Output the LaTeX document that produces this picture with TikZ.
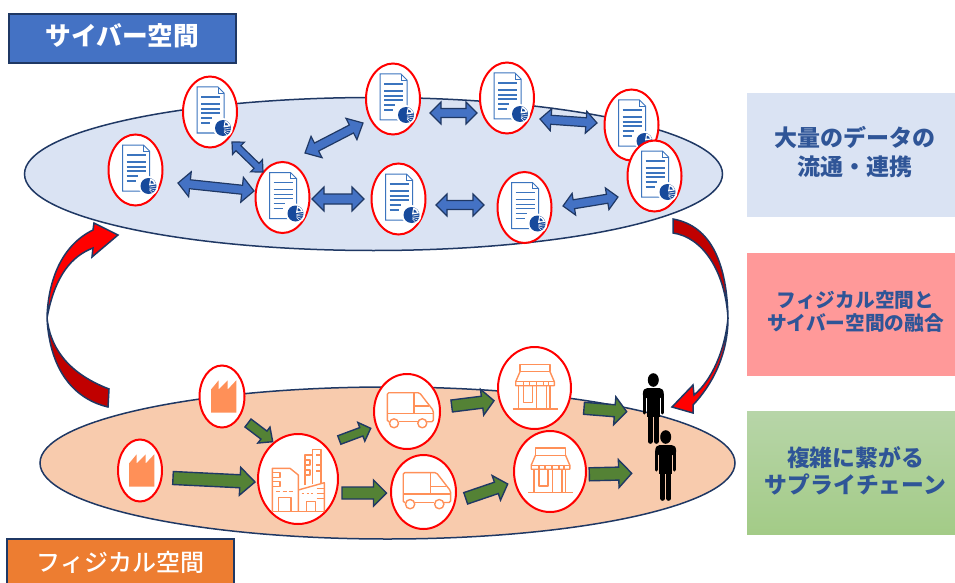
\documentclass[tikz,border=0pt]{standalone}
\usepackage{fontspec}
\usetikzlibrary{shapes.geometric,calc}
\setmainfont{Noto Sans CJK JP}
\newfontfamily\jpmedium{Noto Sans CJK JP Medium}
\definecolor{navyline}{HTML}{1F3864}
\definecolor{cyberblue}{HTML}{4472C4}
\definecolor{cyberpale}{HTML}{DAE3F3}
\definecolor{physorange}{HTML}{ED7D31}
\definecolor{physpale}{HTML}{F8CBAD}
\definecolor{flowgreen}{HTML}{548235}
\definecolor{iconorange}{HTML}{FF9058}
\definecolor{docblue}{HTML}{3B74BE}
\definecolor{piedark}{HTML}{174A9C}
\definecolor{capblue}{HTML}{2F5597}
\definecolor{redbox}{HTML}{FF9999}
\definecolor{darkred}{HTML}{C00000}
\definecolor{chaintop}{HTML}{B7D5A8}
\definecolor{chainbot}{HTML}{A3CB87}
\tikzset{
	asize/.code n args={3}{\def\ahl{#1pt}\def\ahw{#2pt}\def\asw{#3pt}},
	sglarrow/.style={draw=navyline,fill=flowgreen,line width=1.4pt,to path={
		-- ($(\tikztostart)!\asw!90:(\tikztotarget)$)
		-- ($(\tikztotarget)!\ahl!(\tikztostart)!\asw!-90:(\tikztostart)$)
		-- ($(\tikztotarget)!\ahl!(\tikztostart)!\ahw!-90:(\tikztostart)$)
		-- (\tikztotarget)
		-- ($(\tikztotarget)!\ahl!(\tikztostart)!-\ahw!-90:(\tikztostart)$)
		-- ($(\tikztotarget)!\ahl!(\tikztostart)!-\asw!-90:(\tikztostart)$)
		-- ($(\tikztostart)!-\asw!90:(\tikztotarget)$)
		-- cycle}},
	dblarrow/.style={draw=navyline,fill=cyberblue,line width=1.2pt,to path={
		-- ($(\tikztostart)!\ahl!(\tikztotarget)!\ahw!90:(\tikztotarget)$)
		-- ($(\tikztostart)!\ahl!(\tikztotarget)!\asw!90:(\tikztotarget)$)
		-- ($(\tikztotarget)!\ahl!(\tikztostart)!\asw!-90:(\tikztostart)$)
		-- ($(\tikztotarget)!\ahl!(\tikztostart)!\ahw!-90:(\tikztostart)$)
		-- (\tikztotarget)
		-- ($(\tikztotarget)!\ahl!(\tikztostart)!-\ahw!-90:(\tikztostart)$)
		-- ($(\tikztotarget)!\ahl!(\tikztostart)!-\asw!-90:(\tikztostart)$)
		-- ($(\tikztostart)!\ahl!(\tikztotarget)!-\asw!90:(\tikztotarget)$)
		-- ($(\tikztostart)!\ahl!(\tikztotarget)!-\ahw!90:(\tikztotarget)$)
		-- cycle}},
	ring/.style={draw=red,fill=white,ellipse,line width=2pt,inner sep=0pt},
	docring/.style={ring,minimum width=54pt,minimum height=71pt},
	plane/.style={draw=navyline,ellipse,line width=1.5pt,inner sep=0pt},
	spacelabel/.style={draw=navyline,line width=1.5pt,minimum width=227pt,text=white},
	capbox/.style={minimum width=216pt,minimum height=123pt,inner sep=0pt},
	captext/.style={text=capblue,align=center,inner sep=0pt},
	swoosh/.style={draw=navyline,line width=1.5pt,line join=miter},
	thinicon/.style={draw=iconorange,line width=1.4pt,line join=round},
	docicon/.pic={
		\draw[draw=docblue,line width=1pt,fill=white] (-13,-25) -- (8,-25) -- (14,-19) -- (14,21) -- (-13,21) -- cycle;
		\draw[draw=docblue,line width=.8pt] (8,-25) -- (8,-19) -- (14,-19);
		\draw[draw=docblue,line width=1.2pt] (-9,-15) -- (10,-15) (-9,-8) -- (10,-8) (-9,-3) -- (10,-3) (-9,1) -- (10,1) (-9,6) -- (2,6) (-9,11) -- (0,11);
		\fill[white] (13,16) circle[radius=10pt];
		\fill[piedark] (13,16) circle[radius=8pt];
		\fill[white] (13.5,15.5) -- (14.7,8.6) -- (17,9.4) -- (18.9,11) -- (20.1,13.1) -- (20.4,14.3) -- cycle;
		\fill[piedark] (15,13.5) -- (15.4,10.5) -- (17.5,11.8) -- (18.3,13.5) -- cycle;
		\draw[white,line width=.5pt] (14,17) -- (21,16) (14,18) -- (20.5,18.5) (14,19) -- (19,21) (14,20) -- (17,23);
	},
	factoryicon/.pic={
		\fill[iconorange] (-11,16.2) -- (-11,-7) -- (-3.3,-16.2) -- (-3.3,-7) -- (5.7,-16.2) -- (5.7,-7) -- (14.3,-16.2) -- (14.3,16.2) -- cycle;
	},
	truckicon/.pic={
		\draw[thinicon,rounded corners=1.5pt] (-17.5,10.2) -- (-19.7,10.2) -- (-19.7,-18.8) -- (12.5,-18.8) -- (26.3,-1) -- (26.3,10.2) -- (20,10.2);
		\draw[thinicon] (-8.5,10.2) -- (10.5,10.2) (7,-18.8) -- (7,1.8) (7,-5.5) -- (22.3,-5.5) (-19.7,1.8) -- (26.3,1.8);
		\draw[thinicon] (-13,11.8) circle[radius=4.5pt] (15.3,11.8) circle[radius=4.5pt];
	},
	shopicon/.pic={
		\draw[thinicon] (-22,21) -- (23,21);
		\draw[thinicon] (-14.5,-23.7) rectangle (15.5,-16.3);
		\draw[thinicon] (-14.5,-16.3) -- (-18.8,-6.3) -- (-18.8,-2.3) -- (19.8,-2.3) -- (19.8,-6.3) -- (15.5,-16.3);
		\draw[thinicon] (-18.8,-6.3) -- (19.8,-6.3) (-11,-6.3) -- (-11,-2.3) (-5,-6.3) -- (-5,-2.3) (2,-6.3) -- (2,-2.3) (9,-6.3) -- (9,-2.3) (14,-6.3) -- (14,-2.3);
		\draw[thinicon] (-16,-2.3) -- (-16,21) (15.5,-2.3) -- (15.5,21) (12,-2.3) -- (12,21) (2.2,-2.3) -- (2.2,21);
		\draw[thinicon] (-11,-2.3) rectangle (-2.2,14.3);
	},
	buildingicon/.pic={
		\draw[thinicon] (-25.7,32.7) -- (-25.7,-10.7) -- (-8,-10.7) -- (.3,-4) -- (.3,32.7);
		\draw[thinicon] (-25.7,-6.5) -- (-18,-6.5) -- (-18,-1.5) -- (-25.7,-1.5) (-25.7,2.5) -- (-18,2.5) -- (-18,7.5) -- (-25.7,7.5);
		\draw[thinicon] (-22,12.5) -- (-18,12.5) (-15.5,12.5) -- (-11.5,12.5) (-9.5,12.5) -- (-5.5,12.5);
		\draw[thinicon] (-19.7,32.7) -- (-19.7,18.5) -- (-7,18.5) -- (-7,32.7);
		\draw[thinicon] (7,6) -- (7,-24) -- (14.3,-24) -- (14.3,-29.7) -- (23,-29.7) -- (23,3.7);
		\draw[thinicon] (14.3,-24) -- (14.3,5) (7,-19) -- (12,-19) -- (12,-14) -- (7,-14) (7,-9) -- (12,-9) -- (12,-4) -- (7,-4) (18,-24) -- (23,-24) (18,-14) -- (23,-14) (18,-8) -- (23,-8);
		\draw[thinicon] (.3,11) -- (26.3,3.7) -- (26.3,32.7);
		\draw[thinicon] (8.7,32.7) -- (8.7,22.7) -- (17.7,22.7) -- (17.7,32.7);
		\draw[thinicon] (18.7,9.3) -- (26.3,9.3) (18.7,14.3) -- (26.3,14.3) (18.7,19.3) -- (26.3,19.3);
		\draw[thinicon] (3.5,14.5) -- (6,14.5) (8.5,14.5) -- (11,14.5) (13,14.5) -- (15,14.5);
		\draw[thinicon] (-24.7,32.7) -- (26.3,32.7);
	},
	personicon/.pic={
		\fill[black] (0,-29) ellipse[x radius=5.5pt,y radius=6.8pt];
		\fill[black] (-10.5,-14) .. controls (-10.5,-19) and (-9,-21) .. (-6,-21) -- (6,-21) .. controls (9,-21) and (10.5,-19) .. (10.5,-14) -- (7,-11) -- (-7,-11) -- cycle;
		\fill[black] (-6.3,-16) rectangle (6.3,8);
		\draw[black,line width=3pt,line cap=round] (-9,-15) -- (-9,4) (9,-15) -- (9,4);
		\draw[black,line width=4.6pt,line cap=round] (-3,2) -- (-3,32.5) (3,2) -- (3,32.5);
	},
}
\begin{document}
\begin{tikzpicture}[x=1pt,y=-1pt]
	\clip (0,0) rectangle (955,583);
	\fill[white] (0,0) rectangle (955,583);
	\node[plane,fill=cyberpale,minimum width=698pt,minimum height=153pt] (cyber) at (373.5,174) {};
	\node[plane,fill=physpale,minimum width=695pt,minimum height=152pt] (phys) at (387.5,463) {};
	\node[spacelabel,fill=cyberblue,minimum height=49pt,text height=20pt,text depth=6pt,font=\fontsize{25.7}{30}\selectfont\bfseries] (cyberlabel) at (122.5,38.5) {サイバー空間};
	\node[spacelabel,fill=physorange,minimum height=46pt,font=\fontsize{24}{28}\selectfont\jpmedium] (physlabel) at (120.5,562) {フィジカル空間};
	\node[capbox,fill=cyberpale] (flowbox) at (855,155) {};
	\node[capbox,fill=redbox] (mergebox) at (855,314.5) {};
	\node[capbox,top color=chaintop,bottom color=chainbot] (chainbox) at (855,473) {};
	\node[captext,font=\fontsize{23}{29}\selectfont\bfseries] (flowtext) at (855,152.5) {大量のデータの\\流通・連携};
	\node[captext,font=\fontsize{19.7}{23}\selectfont\bfseries] (mergetext) at (855.5,311.5) {フィジカル空間と\\サイバー空間の融合};
	\node[captext,font=\fontsize{22.8}{27}\selectfont\bfseries] (chaintext) at (855.5,470.5) {複雑に繋がる\\サプライチェーン};

	\node[docring] (doch) at (631.5,125) {};
	\pic at (doch) {docicon};
	\node[docring] (doci) at (654.5,176) {};
	\pic at (doci) {docicon};
	\node[docring] (doca) at (210,112) {};
	\pic at (doca) {docicon};
	\node[docring] (docb) at (135.5,170) {};
	\pic at (docb) {docicon};
	\node[docring] (docc) at (282.5,197.5) {};
	\pic at (docc) {docicon};
	\node[docring] (docd) at (393,99) {};
	\pic at (docd) {docicon};
	\node[docring] (doce) at (398.5,199) {};
	\pic at (doce) {docicon};
	\node[docring] (docf) at (507,98) {};
	\pic at (docf) {docicon};
	\node[docring] (docg) at (524.5,207.5) {};
	\pic at (docg) {docicon};

	\draw[dblarrow,asize={9}{8.5}{3.5}] ([shift={(22,30)}]doca.center) to ([shift={(-19.5,-25.5)}]docc.center);
	\draw[dblarrow,asize={12}{12.5}{4.5}] ([shift={(42.5,13)}]docb.center) to ([shift={(-28.5,-6.5)}]docc.center);
	\draw[dblarrow,asize={12}{12}{5}] ([shift={(29.5,1.5)}]docc.center) to ([shift={(-34.5,0)}]doce.center);
	\draw[dblarrow,asize={13}{12}{4.5}] ([shift={(22.5,-44.5)}]docc.center) to ([shift={(-30,24)}]docd.center);
	\draw[dblarrow,asize={11}{11}{4.5}] ([shift={(37,14)}]docd.center) to ([shift={(-30,15)}]docf.center);
	\draw[dblarrow,asize={11}{11}{4.5}] ([shift={(33,21)}]docf.center) to ([shift={(-34.5,-2)}]doch.center);
	\draw[dblarrow,asize={11}{11}{4.5}] ([shift={(37.5,6)}]doce.center) to ([shift={(-40.5,-2.5)}]docg.center);
	\draw[dblarrow,asize={11}{11}{4.5}] ([shift={(38.5,-1.5)}]docg.center) to ([shift={(-36.5,21)}]doci.center);

	\node[ring,minimum width=45pt,minimum height=62pt] (facta) at (222,396.5) {};
	\pic at (facta) {factoryicon};
	\node[ring,minimum width=44pt,minimum height=62pt] (factb) at (140,470.5) {};
	\pic at (factb) {factoryicon};
	\node[ring,minimum width=80pt,minimum height=90pt] (bldg) at (298,479) {};
	\pic at (bldg) {buildingicon};
	\node[ring,minimum width=66pt,minimum height=75pt] (trucka) at (407,411.5) {};
	\pic at (trucka) {truckicon};
	\node[ring,minimum width=65pt,minimum height=74pt] (truckb) at (423.5,492) {};
	\pic[scale=1.03] at (truckb) {truckicon};
	\node[ring,minimum width=73pt,minimum height=82pt] (shopa) at (534.5,388) {};
	\pic at (shopa) {shopicon};
	\node[ring,minimum width=72pt,minimum height=81pt] (shopb) at (550,471.5) {};
	\pic at (shopb) {shopicon};
	\node[minimum width=21pt,minimum height=71pt,inner sep=0pt] (persona) at (653.3,409) {};
	\pic at (persona) {personicon};
	\node[minimum width=21pt,minimum height=71pt,inner sep=0pt] (personb) at (665.7,466) {};
	\pic at (personb) {personicon};

	\draw[sglarrow,asize={15}{14}{6.5}] ([shift={(33,7.5)}]factb.center) to ([shift={(-43,3)}]bldg.center);
	\draw[sglarrow,asize={11}{10}{5}] ([shift={(26,26.5)}]facta.center) to ([shift={(-25.3,-37.3)}]bldg.center);
	\draw[sglarrow,asize={10}{10}{4.5}] ([shift={(41.3,-39)}]bldg.center) to ([shift={(-36.3,16.8)}]trucka.center);
	\draw[sglarrow,asize={13}{13}{6}] ([shift={(44,14)}]bldg.center) to ([shift={(-37,1)}]truckb.center);
	\draw[sglarrow,asize={12}{13}{6}] ([shift={(44.7,-5.5)}]trucka.center) to ([shift={(-40.5,12.7)}]shopa.center);
	\draw[sglarrow,asize={12}{13}{6}] ([shift={(42.2,6.3)}]truckb.center) to ([shift={(-42.3,12.5)}]shopb.center);
	\draw[sglarrow,asize={12}{14}{6}] ([shift={(49.5,20.3)}]shopa.center) to ([shift={(-26.6,2.7)}]persona.center);
	\draw[sglarrow,asize={13}{14}{6.5}] ([shift={(39.3,2.8)}]shopb.center) to ([shift={(-34,7.3)}]personb.center);

	\draw[swoosh,fill=darkred] (109,389) -- (108,407) .. controls (78,400) and (50,375) .. (47,318) .. controls (50,345) and (65,372) .. cycle;
	\draw[swoosh,fill=red] (47,318) .. controls (48,280) and (62,245) .. (93,230) -- (94,223) -- (118,235) -- (92,257) -- (93,248) .. controls (72,256) and (55,275) .. cycle;
	\draw[swoosh,fill=darkred] (673,219) -- (673,233) .. controls (702,237) and (725,270) .. (728,318) .. controls (727,265) and (712,226) .. cycle;
	\draw[swoosh,fill=red] (728,318) .. controls (728,355) and (712,385) .. (693,405) -- (693,413) -- (672,407) -- (693,385) -- (694,395) .. controls (712,380) and (725,350) .. cycle;
\end{tikzpicture}
\end{document}
